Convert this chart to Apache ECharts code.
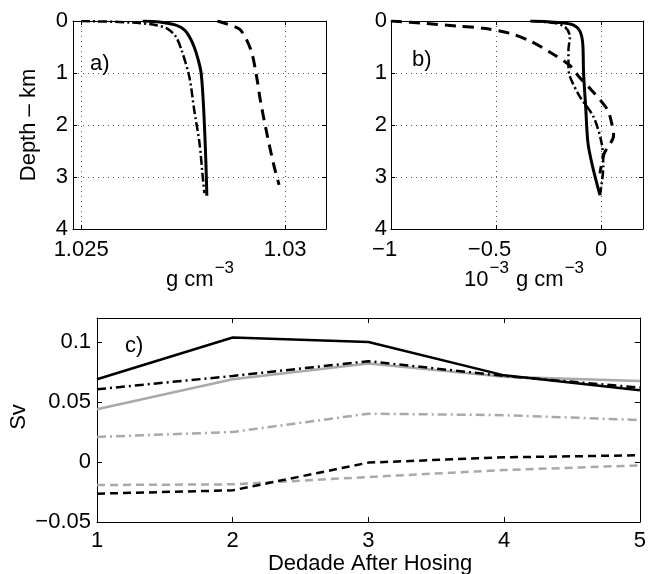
<!DOCTYPE html>
<html><head><meta charset="utf-8">
<script src="https://cdn.jsdelivr.net/npm/echarts@6/dist/echarts.min.js"></script>
<style>html,body{margin:0;padding:0;background:#fff}#c{width:649px;height:574px}</style>
</head><body><div id="c"></div>
<script>
// ---------- Panel a: density (g cm^-3) vs depth (km) ----------
const aSolidDepth   = [0, 0.02, 0.08, 0.17, 0.3, 0.5, 0.75, 1.0, 1.52, 2.17, 2.8, 3.36];
const aSolidVal     = [1.02651, 1.02692, 1.02732, 1.02753, 1.02765, 1.02777, 1.02787, 1.02794, 1.02799, 1.02803, 1.02806, 1.02808];
const aDashDotDepth = [0, 0.03, 0.08, 0.15, 0.3, 0.56, 1.07, 1.71, 2.35, 3.09, 3.31];
const aDashDotVal   = [1.0250, 1.02626, 1.02684, 1.02712, 1.02732, 1.02746, 1.02765, 1.02777, 1.0279, 1.02799, 1.02802];
const aDashedDepth  = [0, 0.06, 0.17, 0.56, 1.07, 1.52, 2.16, 2.8, 3.15];
const aDashedVal    = [1.02834, 1.02858, 1.0289, 1.02916, 1.0293, 1.02939, 1.02955, 1.02973, 1.02985];
const aXTicks = [1.025, 1.03];

// ---------- Panel b: density anomaly (10^-3 g cm^-3) vs depth ----------
const bSolidDepth   = [0, 0.03, 0.08, 0.2, 0.43, 1.0, 1.65, 2.35, 2.8, 3.35];
const bSolidVal     = [-0.337, -0.2, -0.131, -0.10, -0.087, -0.083, -0.073, -0.062, -0.04, -0.005];
const bDashDotDepth = [0, 0.04, 0.12, 0.3, 0.56, 0.88, 1.07, 1.46, 1.84, 2.35, 2.8, 3.35];
const bDashDotVal   = [-0.33, -0.22, -0.17, -0.148, -0.155, -0.155, -0.148, -0.10, -0.036, 0.003, 0.011, -0.005];
const bDashedDepth  = [0, 0.045, 0.1, 0.14, 0.24, 0.4, 0.62, 0.85, 1.07, 1.33, 1.7, 1.95, 2.2, 2.55, 2.93];
const bDashedVal    = [-1.0, -0.84, -0.68, -0.56, -0.43, -0.33, -0.235, -0.15, -0.105, -0.045, 0.03, 0.05, 0.06, 0.015, -0.005];
const bXTicks = [-1, -0.5, 0];

const depthTicks = [0, 1, 2, 3, 4];

// ---------- Panel c: transport (Sv) vs decade ----------
const decades       = [1, 2, 3, 4, 5];
const cBlackSolid   = [0.069, 0.1037, 0.100, 0.0722, 0.0598];
const cBlackDashDot = [0.0606, 0.0717, 0.084, 0.0717, 0.062];
const cGraySolid    = [0.0439, 0.069, 0.082, 0.071, 0.0675];
const cGrayDashDot  = [0.0209, 0.025, 0.0403, 0.039, 0.035];
const cBlackDashed  = [-0.0264, -0.0236, -0.0005, 0.0039, 0.0056];
const cGrayDashed   = [-0.0192, -0.0186, -0.0125, -0.0067, -0.0028];
const cYTicks = [-0.05, 0, 0.05, 0.1];

// ---------- build ----------
const FONT = "'Liberation Sans', Arial, Helvetica, sans-serif";
const FS = 22;
const GRAY = '#a9a9a9';
const fmt = v => String(v).replace('-', '\u2212');
const pairs = (vals, keys) => vals.map((v, i) => [v, keys[i]]);
const xyPairs = (xs, ys) => xs.map((x, i) => [x, ys[i]]);

const measureCtx = document.createElement('canvas').getContext('2d');
function textWidth(s, size) { measureCtx.font = size + 'px ' + FONT; return measureCtx.measureText(s).width; }
const MINUS_W = textWidth('\u2212', FS);

function axis(opt) {
  const o = {
    type: 'value', gridIndex: opt.grid, position: opt.pos, min: opt.min, max: opt.max,
    inverse: !!opt.inverse,
    axisLine: { show: true, onZero: false, lineStyle: { color: '#000', width: 1 } },
    axisTick: { show: true, inside: true, length: opt.tickLen || 4, lineStyle: { color: '#000' } },
    axisLabel: { show: !!opt.label, margin: opt.margin || 6, color: '#000', fontSize: FS, fontFamily: FONT,
                 formatter: opt.hang ? (v => v < 0 ? '{m|' + fmt(v) + '}' : fmt(v)) : fmt,
                 rich: { m: { fontSize: FS, fontFamily: FONT, color: '#000', padding: [0, MINUS_W, 0, 0] } } },
    splitLine: { show: !!opt.split, lineStyle: { color: '#555', width: 1, type: [1, 4] } },
    minorTick: { show: false }
  };
  if (opt.ticks) {
    o.axisTick.customValues = opt.ticks;
    o.axisLabel.customValues = opt.ticks;
  }
  return o;
}

const xAxes = [
  axis({ grid: 0, pos: 'bottom', min: 1.0248, max: 1.031, ticks: aXTicks, label: true, split: true, margin: 10 }),
  axis({ grid: 0, pos: 'top', min: 1.0248, max: 1.031, ticks: aXTicks }),
  axis({ grid: 1, pos: 'bottom', min: -1, max: 0.2, ticks: bXTicks, label: true, split: true, margin: 10, hang: true }),
  axis({ grid: 1, pos: 'top', min: -1, max: 0.2, ticks: bXTicks }),
  axis({ grid: 2, pos: 'bottom', min: 1, max: 5, ticks: decades, label: true, margin: 8, tickLen: 5 }),
  axis({ grid: 2, pos: 'top', min: 1, max: 5, ticks: decades, tickLen: 5 })
];
const yAxes = [
  axis({ grid: 0, pos: 'left', min: 0, max: 4, inverse: true, ticks: depthTicks, label: true, split: true, margin: 5 }),
  axis({ grid: 0, pos: 'right', min: 0, max: 4, inverse: true, ticks: depthTicks }),
  axis({ grid: 1, pos: 'left', min: 0, max: 4, inverse: true, ticks: depthTicks, label: true, split: true, margin: 4 }),
  axis({ grid: 1, pos: 'right', min: 0, max: 4, inverse: true, ticks: depthTicks }),
  axis({ grid: 2, pos: 'left', min: -0.05, max: 0.12, ticks: cYTicks, label: true, margin: 6, tickLen: 5 }),
  axis({ grid: 2, pos: 'right', min: -0.05, max: 0.12, ticks: cYTicks, tickLen: 5 })
];

function line(xi, yi, data, color, width, type, smooth) {
  return {
    type: 'line', xAxisIndex: xi, yAxisIndex: yi, data: data, symbol: 'none', showSymbol: false,
    smooth: smooth || false, animation: false, silent: true,
    lineStyle: { color: color, width: width, type: type, cap: 'butt' }
  };
}
const DASH_AB = [11, 7], DASHDOT_AB = [9, 3, 2, 3];
const DASH_C = [8, 5], DASHDOT_C = [9, 4, 2, 4];

const series = [
  line(0, 0, pairs(aDashDotVal, aDashDotDepth), '#000', 2.5, DASHDOT_AB, 0.3),
  line(0, 0, pairs(aDashedVal, aDashedDepth), '#000', 3, DASH_AB, 0.3),
  line(0, 0, pairs(aSolidVal, aSolidDepth), '#000', 3, 'solid', 0.3),
  line(2, 2, pairs(bDashDotVal, bDashDotDepth), '#000', 2.5, DASHDOT_AB, 0.3),
  line(2, 2, pairs(bDashedVal, bDashedDepth), '#000', 3, DASH_AB, 0.3),
  line(2, 2, pairs(bSolidVal, bSolidDepth), '#000', 3, 'solid', 0.3),
  line(4, 4, xyPairs(decades, cGrayDashed), GRAY, 2.5, DASH_C),
  line(4, 4, xyPairs(decades, cGrayDashDot), GRAY, 2.5, DASHDOT_C),
  line(4, 4, xyPairs(decades, cGraySolid), GRAY, 2.5, 'solid'),
  line(4, 4, xyPairs(decades, cBlackDashed), '#000', 2.5, DASH_C),
  line(4, 4, xyPairs(decades, cBlackDashDot), '#000', 2.5, DASHDOT_C),
  line(4, 4, xyPairs(decades, cBlackSolid), '#000', 2.5, 'solid')
];

function txt(s, x, y, opts) {
  opts = opts || {};
  return {
    type: 'text', x: x, y: y, rotation: opts.rot || 0, silent: true,
    style: { text: s, x: 0, y: 0, fill: '#000', font: (opts.size || FS) + 'px ' + FONT,
             align: opts.align || 'center', verticalAlign: 'middle' }
  };
}
// title with superscripts: parts of [text, isSup]
function supTitle(parts, cx, baseCenterY) {
  const SUP = 17;
  const widths = parts.map(p => textWidth(p[0], p[1] ? SUP : FS));
  const total = widths.reduce((a, b) => a + b, 0) + parts.length - 1;
  let x = cx - total / 2;
  const out = [];
  parts.forEach((p, i) => {
    out.push(txt(p[0], x, p[1] ? baseCenterY - 12 : baseCenterY, { align: 'left', size: p[1] ? SUP : FS }));
    x += widths[i] + 1;
  });
  return out;
}

const graphic = [
  txt('a)', 90, 64, { align: 'left' }),
  txt('b)', 412, 60, { align: 'left' }),
  txt('c)', 125, 346, { align: 'left' }),
  txt('Depth \u2013 km', 29, 125, { rot: Math.PI / 2 }),
  txt('Sv', 18.5, 417, { rot: Math.PI / 2 }),
  txt('Dedade After Hosing', 370, 564)
].concat(
  supTitle([['g cm', false], ['\u22123', true]], 200, 280),
  supTitle([['10', false], ['\u22123', true], [' g cm', false], ['\u22123', true]], 524, 280)
);

const chart = echarts.init(document.getElementById('c'), null, { renderer: 'canvas' });
chart.setOption({
  backgroundColor: '#fff',
  animation: false,
  grid: [
    { left: 73, top: 21, width: 253, height: 208, containLabel: false },
    { left: 391, top: 21, width: 252, height: 208, containLabel: false },
    { left: 97, top: 318, width: 545, height: 204, containLabel: false }
  ],
  xAxis: xAxes,
  yAxis: yAxes,
  series: series,
  graphic: graphic
});
</script></body></html>
